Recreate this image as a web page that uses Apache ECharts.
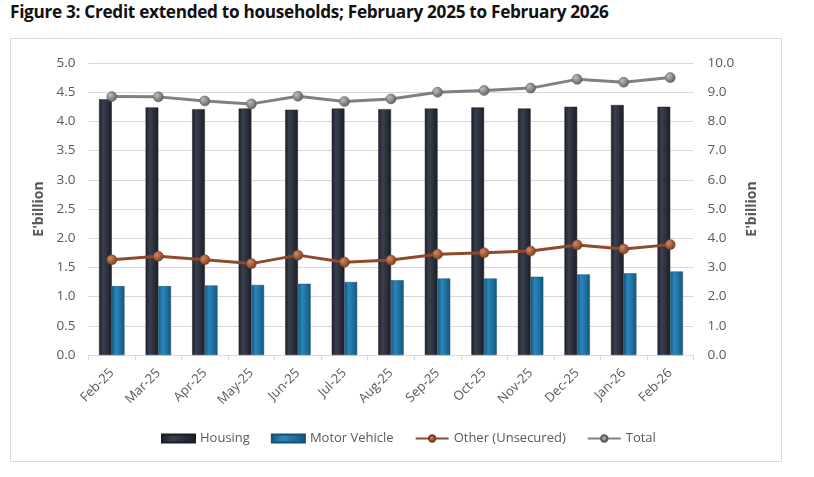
<!DOCTYPE html>
<html><head><meta charset="utf-8">
<script src="https://cdn.jsdelivr.net/npm/echarts@6/dist/echarts.min.js"></script>
<style>html,body{margin:0;padding:0;background:#fff;}#title{position:absolute;left:10px;top:0px;font-family:"Open Sans";font-weight:bold;font-size:17.2px;color:#111;letter-spacing:-0.3px;}#box{position:absolute;left:10px;top:38px;width:770px;height:422px;border:1px solid #d9d9d9;}#c{position:absolute;left:0;top:0;width:814px;height:477px;}</style>
</head><body>
<div id="title">Figure 3: Credit extended to households; February 2025 to February 2026</div>
<div id="box"></div>
<div id="c"></div>
<script>
const categories = ['Feb-25','Mar-25','Apr-25','May-25','Jun-25','Jul-25','Aug-25','Sep-25','Oct-25','Nov-25','Dec-25','Jan-26','Feb-26'];
const housing = [4.38,4.24,4.21,4.22,4.20,4.22,4.21,4.22,4.24,4.22,4.25,4.28,4.25];
const motorVehicle = [1.18,1.18,1.19,1.20,1.22,1.25,1.28,1.31,1.31,1.34,1.38,1.40,1.43];
const otherUnsecured = [3.26,3.38,3.26,3.13,3.42,3.18,3.25,3.45,3.50,3.56,3.77,3.63,3.78];
const total = [8.85,8.84,8.70,8.60,8.86,8.68,8.77,9.00,9.06,9.14,9.44,9.34,9.50];
const leftTicks = {min:0,max:5,interval:0.5};
const rightTicks = {min:0,max:10,interval:1};

const chart = echarts.init(document.getElementById('c'));
const grad = (stops)=>new echarts.graphic.LinearGradient(0,0,1,0,stops.map((c,i)=>({offset:i/(stops.length-1),color:c})));
const radial = (a,b)=>new echarts.graphic.RadialGradient(0.35,0.35,0.7,[{offset:0,color:a},{offset:1,color:b}]);
const font = 'Open Sans';
chart.setOption({
  animation:false,
  textStyle:{fontFamily:font},
  grid:{left:88.5,right:120.5,top:63,bottom:122,containLabel:false},
  legend:{
    top:427,left:156,itemGap:21,itemWidth:33,itemHeight:8,
    textStyle:{color:'#595959',fontSize:13,fontFamily:font},
    data:[
      {name:'Housing',icon:'rect'},
      {name:'Motor Vehicle',icon:'rect'},
      {name:'Other (Unsecured)'},
      {name:'Total'}
    ]
  },
  xAxis:{
    type:'category',data:categories,
    axisLine:{lineStyle:{color:'#d9d9d9'}},
    axisTick:{show:true,lineStyle:{color:'#d9d9d9'},length:5},
    axisLabel:{rotate:45,color:'#595959',fontSize:13,margin:16,interval:0}
  },
  yAxis:[
    {type:'value',min:leftTicks.min,max:leftTicks.max,interval:leftTicks.interval,
     name:"E'billion",nameLocation:'middle',nameGap:40,nameRotate:90,
     nameTextStyle:{color:'#595959',fontWeight:'bold',fontSize:14,fontFamily:font},
     axisLabel:{color:'#595959',fontSize:13.5,margin:13,formatter:v=>v.toFixed(1)},
     splitLine:{lineStyle:{color:'#d9d9d9'}},axisLine:{show:false},axisTick:{show:false}},
    {type:'value',min:rightTicks.min,max:rightTicks.max,interval:rightTicks.interval,
     name:"E'billion",nameLocation:'middle',nameGap:51,nameRotate:90,
     nameTextStyle:{color:'#595959',fontWeight:'bold',fontSize:14,fontFamily:font,verticalAlign:'top'},
     axisLabel:{color:'#595959',fontSize:13.5,margin:14,formatter:v=>v.toFixed(1)},
     splitLine:{show:false},axisLine:{show:false},axisTick:{show:false}}
  ],
  series:[
    {name:'Housing',type:'bar',yAxisIndex:0,data:housing,barWidth:12.7,barGap:'0%',
     itemStyle:{color:grad(['#1e212b','#3a3f4f','#2b2f3c','#1b1e27']),borderColor:'#1a1c24',borderWidth:0.5}},
    {name:'Motor Vehicle',type:'bar',yAxisIndex:0,data:motorVehicle,barWidth:12.7,
     itemStyle:{color:grad(['#17587f','#2a86bb','#1f6f9f','#165679']),borderColor:'#155075',borderWidth:0.5}},
    {name:'Other (Unsecured)',type:'line',yAxisIndex:1,data:otherUnsecured,
     symbol:'circle',symbolSize:10,lineStyle:{color:'#8f4a2c',width:3},
     itemStyle:{color:radial('#d08a62','#7a3a1e'),borderColor:'#7a3a1e',borderWidth:0.5}},
    {name:'Total',type:'line',yAxisIndex:1,data:total,
     symbol:'circle',symbolSize:10,lineStyle:{color:'#808080',width:3},
     itemStyle:{color:radial('#bdbdbd','#5e5e5e'),borderColor:'#5a5a5a',borderWidth:0.5}}
  ]
});
</script>
</body></html>
